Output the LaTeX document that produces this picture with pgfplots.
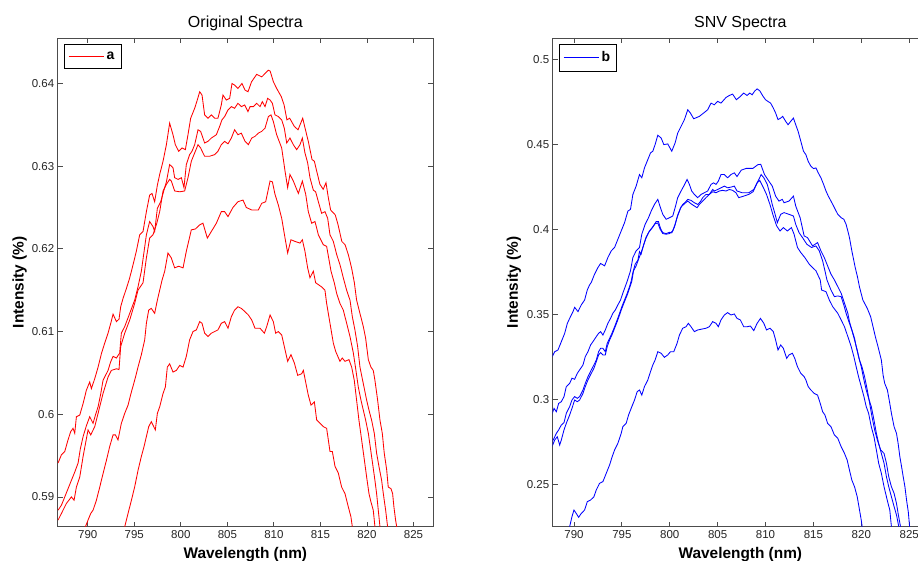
\documentclass[border=0pt]{standalone}
\usepackage{fontspec}
\setmainfont{Liberation Sans}
\usepackage{pgfplots}
\pgfplotsset{compat=1.18}

\pgfplotsset{
  mat/.style={
    scale only axis, width=375.3pt, height=488.7pt,
    anchor=south west,
    axis line style={draw=black!70, line width=0.9pt},
    tick align=inside, major tick length=5pt,
    tick style={draw=black!70, line width=0.8pt},
    ticklabel style={font=\fontsize{11.5}{13}\selectfont, text=black!85},
    xtick={790,795,800,805,810,815,820,825},
    xticklabels={790,795,800,805,810,815,820,825},
    title style={font=\fontsize{16}{19}\selectfont, at={(axis description cs:0.5,1)}, anchor=base, yshift=4pt},
    xlabel style={font=\bfseries\fontsize{15.4}{18}\selectfont, at={(axis description cs:0.5,-0.0645)}, anchor=base},
    ylabel style={font=\bfseries\fontsize{15.4}{18}\selectfont, anchor=base},
    xlabel={Wavelength (nm)},
    ylabel={Intensity (\%)},
    legend style={at={(axis description cs:0,1)}, anchor=north west, xshift=6.3pt, yshift=-6pt,
      draw=black, inner xsep=4pt, inner ysep=5pt,
      nodes={inner sep=2.5pt, font=\bfseries\fontsize{14}{16}\selectfont}},
    legend image code/.code={\draw[#1] (0pt,0pt) -- (35pt,0pt);},
    every axis plot/.append style={line width=0.85pt},
  },
}

\begin{document}
\begin{tikzpicture}

% ---- left: original spectra ----
\begin{axis}[mat, at={(57.7pt,34.3pt)},
  title={Original Spectra},
  ylabel style={at={(axis description cs:-0.0906,0.5)}},
  xmin=786.77, xmax=827.1, ymin=0.5864, ymax=0.6455,
  ytick={0.59,0.6,0.61,0.62,0.63,0.64},
  yticklabels={0.59,0.6,0.61,0.62,0.63,0.64},
]
\addlegendimage{draw=red, line width=0.85pt}
\addlegendentry{a}
\addplot[red, forget plot] coordinates {
(786.81,0.5941)(787.17,0.5951)(787.53,0.5955)(787.88,0.5969)(788.17,0.5979)(788.42,0.5983)(788.6,0.5977)(788.78,0.5997)(789.14,0.5999)(789.5,0.6013)(789.85,0.6029)(790.21,0.6039)(790.39,0.6031)(790.75,0.6043)(791.11,0.6057)(791.46,0.6073)(791.82,0.6086)(792.18,0.6098)(792.47,0.6110)(792.72,0.6121)(793.08,0.6112)(793.36,0.6115)(793.54,0.6130)(793.79,0.6140)(794.15,0.6152)(794.51,0.6165)(794.87,0.6181)(795.22,0.6197)(795.58,0.6217)(795.94,0.6221)(796.3,0.6245)(796.65,0.6265)(796.9,0.6267)(797.19,0.6257)(797.48,0.6277)(797.73,0.6290)(798.09,0.6306)(798.45,0.6326)(798.8,0.6352)(799.16,0.6338)(799.41,0.6326)(799.77,0.6318)(800.13,0.6322)(800.49,0.6320)(800.77,0.6338)(801.06,0.6358)(801.49,0.6370)(801.77,0.6380)(802.03,0.6390)(802.28,0.6386)(802.56,0.6362)(802.92,0.6358)(803.28,0.6362)(803.64,0.6358)(803.99,0.6358)(804.35,0.6374)(804.53,0.6386)(804.89,0.6380)(805.25,0.6382)(805.5,0.6400)(805.78,0.6398)(806.14,0.6394)(806.57,0.6400)(806.9,0.6392)(807.22,0.6390)(807.6,0.6402)(808.15,0.6411)(808.7,0.6408)(809.05,0.6412)(809.4,0.6416)(809.6,0.6415)(809.95,0.6402)(810.3,0.6394)(810.8,0.6384)(811.1,0.6374)(811.4,0.6356)(811.7,0.6358)(812.2,0.6348)(812.6,0.6344)(813.1,0.6358)(813.35,0.6346)(813.7,0.6330)(814.1,0.6308)(814.35,0.6306)(814.6,0.6294)(814.95,0.6278)(815.3,0.6272)(815.6,0.6280)(815.85,0.6262)(816.1,0.6247)(816.6,0.6241)(816.9,0.6229)(817.3,0.6209)(817.65,0.6205)(818.0,0.6193)(818.35,0.6177)(818.65,0.6159)(818.89,0.6138)(819.25,0.6122)(819.61,0.6106)(819.86,0.6092)(820.15,0.6066)(820.43,0.6057)(820.68,0.6053)(820.86,0.6041)(821.15,0.6017)(821.4,0.5993)(821.65,0.5977)(821.86,0.5953)(822.12,0.5933)(822.29,0.5912)(822.58,0.5910)(822.76,0.5904)(822.9,0.5888)(823.08,0.5872)(823.23,0.5862)
};
\addplot[red, forget plot] coordinates {
(786.81,0.5884)(787.17,0.5890)(787.6,0.5902)(788.24,0.5920)(788.6,0.5930)(788.96,0.5941)(789.2,0.5958)(789.5,0.5973)(789.85,0.5986)(790.21,0.5997)(790.57,0.5989)(790.85,0.6000)(791.11,0.6009)(791.4,0.6025)(791.64,0.6041)(792.18,0.6053)(792.45,0.6063)(792.72,0.6070)(793.08,0.6068)(793.43,0.6074)(793.61,0.6098)(793.97,0.6106)(794.51,0.6122)(795.04,0.6138)(795.4,0.6154)(795.76,0.6173)(796.3,0.6217)(796.65,0.6233)(797.01,0.6227)(797.19,0.6221)(797.48,0.6249)(797.84,0.6257)(798.19,0.6271)(798.45,0.6281)(798.8,0.6302)(799.16,0.6298)(799.34,0.6286)(799.7,0.6284)(800.06,0.6286)(800.34,0.6274)(800.59,0.6302)(800.95,0.6314)(801.2,0.6318)(801.49,0.6326)(801.85,0.6344)(802.13,0.6342)(802.38,0.6334)(802.56,0.6328)(802.92,0.6330)(803.28,0.6334)(803.82,0.6338)(804.17,0.6348)(804.42,0.6356)(804.71,0.6360)(805.07,0.6368)(805.43,0.6372)(805.78,0.6370)(806.14,0.6376)(806.5,0.6372)(806.86,0.6374)(807.22,0.6366)(807.44,0.6372)(807.8,0.6372)(808.15,0.6376)(808.51,0.6372)(808.76,0.6378)(809.05,0.6372)(809.33,0.6382)(809.59,0.6380)(809.84,0.6376)(810.12,0.6362)(810.48,0.6360)(810.84,0.6356)(811.12,0.6346)(811.38,0.6328)(811.73,0.6334)(812.09,0.6326)(812.45,0.6320)(812.81,0.6326)(813.06,0.6334)(813.34,0.6316)(813.63,0.6304)(813.88,0.6286)(814.24,0.6271)(814.49,0.6269)(814.78,0.6257)(815.13,0.6243)(815.49,0.6245)(815.78,0.6237)(816.03,0.6217)(816.39,0.6209)(816.75,0.6193)(817.1,0.6181)(817.46,0.6165)(817.82,0.6150)(818.18,0.6138)(818.43,0.6118)(818.71,0.6102)(819.0,0.6082)(819.25,0.6057)(819.61,0.6037)(819.97,0.6017)(820.22,0.6005)(820.5,0.5993)(820.79,0.5977)(821.04,0.5953)(821.29,0.5937)(821.58,0.5920)(821.76,0.5904)(822.01,0.5884)(822.22,0.5864)
};
\addplot[red, forget plot] coordinates {
(786.81,0.5872)(787.17,0.5880)(787.7,0.5892)(788.24,0.5900)(788.53,0.5896)(788.78,0.5912)(789.14,0.5924)(789.5,0.5949)(790.03,0.5981)(790.32,0.5975)(790.75,0.5985)(791.11,0.6001)(791.64,0.6025)(792.18,0.6045)(792.54,0.6053)(793.08,0.6055)(793.36,0.6054)(793.54,0.6082)(793.97,0.6098)(794.51,0.6114)(795.04,0.6134)(795.4,0.6150)(795.94,0.6159)(796.3,0.6189)(796.65,0.6213)(797.01,0.6217)(797.37,0.6229)(797.73,0.6245)(798.09,0.6270)(798.45,0.6278)(798.8,0.6284)(798.98,0.6282)(799.34,0.6270)(799.88,0.6269)(800.41,0.6270)(800.77,0.6286)(801.13,0.6306)(801.49,0.6316)(801.85,0.6326)(802.13,0.6322)(802.38,0.6316)(802.56,0.6312)(803.1,0.6312)(803.64,0.6314)(803.99,0.6318)(804.35,0.6326)(804.71,0.6330)(805.07,0.6327)(805.43,0.6334)(805.78,0.6344)(806.14,0.6338)(806.5,0.6340)(806.9,0.6330)(807.26,0.6326)(807.62,0.6334)(807.97,0.6336)(808.33,0.6340)(808.69,0.6342)(809.05,0.6346)(809.41,0.6360)(809.69,0.6362)(809.94,0.6354)(810.3,0.6338)(810.84,0.6322)(811.2,0.6294)(811.48,0.6274)(811.73,0.6290)(812.09,0.6282)(812.63,0.6267)(813.06,0.6282)(813.42,0.6266)(813.7,0.6245)(814.06,0.6231)(814.42,0.6233)(814.78,0.6217)(815.31,0.6205)(815.67,0.6203)(816.14,0.6173)(816.49,0.6159)(816.75,0.6146)(817.1,0.6134)(817.46,0.6126)(817.82,0.6110)(818.18,0.6094)(818.54,0.6074)(818.82,0.6053)(819.07,0.6033)(819.36,0.6017)(819.61,0.6005)(819.86,0.5993)(820.15,0.5977)(820.4,0.5957)(820.65,0.5937)(820.86,0.5920)(821.04,0.5904)(821.22,0.5884)(821.4,0.5864)
};
\addplot[red, forget plot] coordinates {
(789.75,0.5864)(790.03,0.5872)(790.32,0.5880)(790.57,0.5884)(790.93,0.5896)(791.29,0.5912)(791.64,0.5928)(792.0,0.5944)(792.36,0.5961)(792.72,0.5975)(792.97,0.5975)(793.25,0.5969)(793.61,0.5989)(793.97,0.6001)(794.33,0.6011)(794.69,0.6027)(795.04,0.6041)(795.4,0.6057)(795.76,0.6072)(796.12,0.6090)(796.3,0.6110)(796.55,0.6126)(796.83,0.6128)(797.19,0.6122)(797.48,0.6138)(797.73,0.6150)(797.98,0.6162)(798.27,0.6173)(798.62,0.6195)(798.98,0.6189)(799.34,0.6177)(799.77,0.6179)(800.24,0.6177)(800.59,0.6197)(801.13,0.6223)(801.56,0.6224)(802.03,0.6229)(802.38,0.6231)(802.85,0.6213)(803.28,0.6221)(803.82,0.6231)(804.35,0.6245)(804.71,0.6245)(805.07,0.6239)(805.6,0.6250)(806.14,0.6257)(806.68,0.6259)(807.04,0.6250)(807.62,0.6247)(808.33,0.6247)(808.69,0.6255)(809.12,0.6257)(809.59,0.6282)(809.84,0.6281)(810.12,0.6266)(810.48,0.6253)(810.84,0.6237)(811.2,0.6213)(811.48,0.6195)(811.84,0.6211)(812.27,0.6209)(812.81,0.6207)(813.06,0.6211)(813.34,0.6197)(813.63,0.6177)(813.88,0.6165)(814.24,0.6173)(814.49,0.6159)(815.13,0.6154)(815.49,0.6150)(815.67,0.6134)(816.03,0.6110)(816.39,0.6086)(816.64,0.6076)(817.1,0.6064)(817.35,0.6068)(817.64,0.6064)(818.07,0.6066)(818.36,0.6057)(818.64,0.6041)(818.89,0.6017)(819.14,0.5993)(819.43,0.5969)(819.72,0.5945)(819.97,0.5924)(820.22,0.5904)(820.43,0.5894)(820.68,0.5884)(820.86,0.5864)
};
\addplot[red, forget plot] coordinates {
(793.97,0.5864)(794.33,0.5880)(794.69,0.5896)(795.04,0.5912)(795.4,0.5932)(795.76,0.5949)(796.05,0.5961)(796.3,0.5973)(796.55,0.5985)(796.83,0.5991)(797.26,0.5981)(797.48,0.6001)(797.73,0.6009)(798.09,0.6025)(798.34,0.6033)(798.55,0.6057)(798.8,0.6061)(799.16,0.6051)(799.52,0.6053)(799.88,0.6059)(800.24,0.6057)(800.59,0.6070)(800.95,0.6090)(801.31,0.6100)(801.67,0.6102)(802.03,0.6112)(802.28,0.6110)(802.56,0.6098)(802.92,0.6094)(803.28,0.6098)(803.64,0.6100)(803.99,0.6102)(804.35,0.6110)(804.71,0.6112)(805.07,0.6104)(805.43,0.6118)(805.78,0.6126)(806.14,0.6130)(806.5,0.6128)(806.9,0.6124)(807.26,0.6120)(807.62,0.6114)(807.97,0.6104)(808.51,0.6104)(808.98,0.6098)(809.23,0.6106)(809.59,0.6120)(809.94,0.6112)(810.19,0.6098)(810.48,0.6100)(810.84,0.6096)(811.12,0.6082)(811.48,0.6064)(811.84,0.6072)(812.2,0.6062)(812.56,0.6047)(812.99,0.6049)(813.17,0.6053)(813.45,0.6037)(813.7,0.6023)(813.99,0.6011)(814.35,0.6015)(814.6,0.5993)(814.96,0.5989)(815.31,0.5985)(815.67,0.5983)(815.85,0.5969)(816.03,0.5955)(816.28,0.5955)(816.57,0.5937)(816.92,0.5929)(817.28,0.5912)(817.64,0.5904)(818.0,0.5888)(818.28,0.5876)(818.43,0.5864)
};
\end{axis}

% ---- right: SNV spectra ----
\begin{axis}[mat, at={(552.7pt,34.3pt)},
  title={SNV Spectra},
  ylabel style={at={(axis description cs:-0.093,0.5)}},
  xmin=787.78, xmax=826.96, ymin=0.2251, ymax=0.5125,
  ytick={0.25,0.3,0.35,0.4,0.45,0.5},
  yticklabels={0.25,0.3,0.35,0.4,0.45,0.5},
]
\addlegendimage{draw=blue, line width=0.85pt}
\addlegendentry{b}
\addplot[blue, forget plot] coordinates {
(787.64,0.3241)(787.99,0.3280)(788.33,0.3290)(788.68,0.3339)(789.03,0.3388)(789.31,0.3447)(789.55,0.3476)(789.9,0.3516)(790.07,0.3541)(790.42,0.3516)(790.76,0.3555)(791.11,0.3584)(791.39,0.3643)(791.63,0.3673)(791.81,0.3688)(792.15,0.3736)(792.5,0.3775)(792.78,0.3799)(793.2,0.3785)(793.54,0.3834)(793.89,0.3873)(794.24,0.3893)(794.58,0.3941)(794.93,0.3990)(795.28,0.4039)(795.63,0.4107)(795.9,0.4117)(796.15,0.4205)(796.49,0.4254)(796.84,0.4322)(797.08,0.4303)(797.36,0.4361)(797.71,0.4410)(797.99,0.4449)(798.23,0.4459)(798.47,0.4498)(798.75,0.4553)(799.1,0.4537)(799.38,0.4498)(799.79,0.4502)(800.21,0.4459)(800.56,0.4508)(800.83,0.4566)(801.18,0.4605)(801.53,0.4645)(801.88,0.4703)(802.15,0.4684)(802.5,0.4650)(803.09,0.4664)(803.54,0.4684)(803.96,0.4703)(804.31,0.4742)(804.65,0.4732)(805.0,0.4752)(805.35,0.4742)(805.87,0.4775)(806.22,0.4787)(806.56,0.4795)(806.95,0.4762)(807.37,0.4781)(807.72,0.4801)(808.07,0.4787)(808.35,0.4801)(808.6,0.4791)(808.84,0.4811)(809.12,0.4826)(809.4,0.4814)(809.75,0.4781)(810.0,0.4762)(810.25,0.4752)(810.53,0.4742)(810.81,0.4713)(811.05,0.4684)(811.3,0.4645)(811.58,0.4654)(811.79,0.4664)(812.1,0.4635)(812.35,0.4615)(812.63,0.4635)(812.91,0.4654)(813.15,0.4615)(813.4,0.4576)(813.68,0.4518)(813.96,0.4459)(814.21,0.4439)(814.45,0.4400)(814.73,0.4371)(815.01,0.4357)(815.26,0.4361)(815.5,0.4332)(815.78,0.4303)(816.06,0.4264)(816.31,0.4225)(816.55,0.4195)(816.83,0.4166)(817.19,0.4127)(817.54,0.4088)(817.89,0.4068)(818.17,0.4059)(818.41,0.4029)(818.59,0.3990)(818.76,0.3951)(819.01,0.3873)(819.22,0.3814)(819.36,0.3775)(819.57,0.3727)(819.81,0.3660)(820.16,0.3584)(820.62,0.3535)(820.97,0.3486)(821.22,0.3427)(821.46,0.3369)(821.74,0.3310)(822.09,0.3231)(822.27,0.3143)(822.44,0.3094)(822.72,0.3055)(822.97,0.2976)(823.14,0.2918)(823.42,0.2839)(823.67,0.2800)(823.84,0.2741)(824.02,0.2663)(824.2,0.2604)(824.37,0.2545)(824.55,0.2486)(824.72,0.2408)(824.9,0.2339)(825.04,0.2251)
};
\addplot[blue, forget plot] coordinates {
(787.64,0.2902)(787.92,0.2947)(788.16,0.2927)(788.4,0.2976)(788.68,0.2986)(788.96,0.3016)(789.2,0.3075)(789.55,0.3094)(789.79,0.3124)(790.07,0.3118)(790.35,0.3153)(790.59,0.3173)(790.94,0.3202)(791.18,0.3251)(791.46,0.3280)(791.74,0.3320)(791.98,0.3339)(792.33,0.3369)(792.57,0.3388)(792.78,0.3398)(793.02,0.3378)(793.27,0.3408)(793.54,0.3447)(793.82,0.3476)(794.06,0.3506)(794.31,0.3525)(794.58,0.3555)(794.86,0.3584)(795.1,0.3624)(795.35,0.3663)(795.56,0.3695)(795.9,0.3756)(796.15,0.3834)(796.49,0.3873)(796.84,0.3893)(797.08,0.3971)(797.43,0.4029)(797.78,0.4068)(798.06,0.4107)(798.4,0.4146)(798.75,0.4176)(799.03,0.4127)(799.27,0.4088)(799.62,0.4059)(799.97,0.4068)(800.31,0.4078)(800.56,0.4127)(800.83,0.4186)(801.18,0.4225)(801.46,0.4254)(801.81,0.4293)(802.05,0.4264)(802.29,0.4225)(802.57,0.4205)(802.92,0.4186)(803.26,0.4205)(803.61,0.4215)(803.96,0.4225)(804.31,0.4264)(804.58,0.4273)(804.83,0.4264)(805.07,0.4283)(805.35,0.4322)(805.7,0.4322)(806.04,0.4303)(806.39,0.4322)(806.74,0.4332)(807.02,0.4310)(807.47,0.4348)(807.99,0.4358)(808.68,0.4358)(809.2,0.4380)(809.5,0.4382)(809.89,0.4322)(810.35,0.4283)(810.7,0.4254)(811.05,0.4195)(811.4,0.4166)(811.75,0.4176)(811.93,0.4156)(812.45,0.4166)(812.91,0.4195)(813.15,0.4137)(813.61,0.4068)(814.03,0.3961)(814.38,0.3951)(814.91,0.3902)(815.43,0.3922)(815.78,0.3873)(816.13,0.3834)(816.48,0.3785)(816.83,0.3736)(817.19,0.3702)(817.54,0.3663)(817.89,0.3624)(818.24,0.3565)(818.59,0.3506)(818.76,0.3457)(819.01,0.3408)(819.29,0.3349)(819.57,0.3290)(819.81,0.3231)(820.06,0.3192)(820.34,0.3133)(820.62,0.3055)(820.87,0.2976)(821.11,0.2898)(821.39,0.2820)(821.67,0.2761)(822.02,0.2702)(822.37,0.2682)(822.62,0.2624)(822.86,0.2545)(823.14,0.2486)(823.42,0.2447)(823.67,0.2388)(823.84,0.2329)(824.09,0.2251)
};
\addplot[blue, forget plot] coordinates {
(787.64,0.2741)(787.92,0.2771)(788.16,0.2800)(788.4,0.2820)(788.68,0.2849)(788.96,0.2863)(789.2,0.2918)(789.55,0.2957)(789.79,0.2996)(790.07,0.3016)(790.35,0.3006)(790.59,0.3016)(790.94,0.3055)(791.18,0.3094)(791.46,0.3133)(791.81,0.3173)(792.08,0.3202)(792.33,0.3231)(792.57,0.3280)(792.78,0.3300)(793.02,0.3300)(793.27,0.3280)(793.47,0.3329)(793.72,0.3359)(793.96,0.3388)(794.24,0.3427)(794.51,0.3467)(794.76,0.3506)(795.0,0.3545)(795.28,0.3584)(795.56,0.3624)(795.8,0.3663)(795.97,0.3695)(796.15,0.3746)(796.39,0.3795)(796.67,0.3818)(796.84,0.3869)(797.01,0.3854)(797.29,0.3912)(797.54,0.3955)(797.88,0.3990)(798.23,0.4014)(798.58,0.4045)(798.82,0.4045)(799.03,0.4006)(799.27,0.3980)(799.62,0.3975)(799.97,0.3982)(800.21,0.3979)(800.49,0.4014)(800.76,0.4068)(801.11,0.4123)(801.35,0.4146)(801.6,0.4158)(801.88,0.4176)(802.22,0.4170)(802.57,0.4156)(802.92,0.4146)(803.19,0.4162)(803.44,0.4186)(803.78,0.4205)(804.13,0.4205)(804.48,0.4234)(804.65,0.4225)(805.0,0.4234)(805.35,0.4244)(805.7,0.4254)(806.04,0.4244)(806.39,0.4248)(806.74,0.4254)(807.02,0.4225)(807.55,0.4215)(808.25,0.4215)(808.77,0.4234)(809.3,0.4293)(809.54,0.4322)(809.82,0.4303)(810.18,0.4264)(810.46,0.4205)(810.7,0.4146)(810.95,0.4098)(811.23,0.4039)(811.58,0.4088)(811.93,0.4098)(812.45,0.4088)(812.91,0.4078)(813.15,0.4029)(813.5,0.3980)(813.86,0.3951)(814.31,0.3912)(814.8,0.3893)(815.26,0.3902)(815.61,0.3873)(815.96,0.3814)(816.2,0.3756)(816.41,0.3702)(816.83,0.3643)(817.19,0.3604)(817.54,0.3608)(817.89,0.3604)(818.17,0.3555)(818.41,0.3506)(818.76,0.3447)(819.01,0.3408)(819.29,0.3359)(819.46,0.3310)(819.71,0.3251)(819.99,0.3192)(820.27,0.3114)(820.51,0.3055)(820.76,0.3006)(821.04,0.2957)(821.32,0.2878)(821.57,0.2800)(821.81,0.2741)(822.09,0.2682)(822.37,0.2624)(822.62,0.2545)(822.86,0.2486)(823.14,0.2427)(823.42,0.2369)(823.67,0.2320)(823.91,0.2251)
};
\addplot[blue, forget plot] coordinates {
(787.64,0.2712)(787.99,0.2761)(788.26,0.2780)(788.51,0.2731)(788.68,0.2761)(788.96,0.2820)(789.2,0.2859)(789.55,0.2908)(789.79,0.2947)(790.07,0.2996)(790.35,0.2986)(790.59,0.2996)(790.94,0.3035)(791.18,0.3075)(791.46,0.3114)(791.81,0.3153)(792.08,0.3182)(792.33,0.3222)(792.57,0.3261)(792.78,0.3275)(793.02,0.3261)(793.27,0.3261)(793.47,0.3310)(793.72,0.3349)(793.96,0.3378)(794.24,0.3418)(794.51,0.3457)(794.76,0.3496)(795.0,0.3535)(795.28,0.3575)(795.56,0.3614)(795.8,0.3653)(796.04,0.3695)(796.22,0.3756)(796.49,0.3785)(796.74,0.3824)(796.95,0.3854)(797.19,0.3893)(797.47,0.3941)(797.78,0.3980)(798.13,0.4006)(798.47,0.4033)(798.75,0.4037)(799.0,0.4000)(799.27,0.3975)(799.62,0.3971)(799.97,0.3975)(800.31,0.3990)(800.56,0.4029)(800.83,0.4084)(801.18,0.4131)(801.53,0.4150)(801.88,0.4166)(802.22,0.4150)(802.57,0.4137)(802.85,0.4127)(803.09,0.4146)(803.44,0.4166)(803.78,0.4186)(804.13,0.4205)(804.48,0.4221)(804.83,0.4215)(805.17,0.4225)(805.52,0.4229)(805.87,0.4225)(806.22,0.4234)(806.56,0.4229)(806.91,0.4215)(807.2,0.4186)(807.72,0.4195)(808.25,0.4205)(808.7,0.4221)(809.12,0.4273)(809.4,0.4287)(809.75,0.4248)(810.1,0.4205)(810.46,0.4146)(810.81,0.4078)(811.16,0.4020)(811.51,0.3990)(811.86,0.4010)(812.28,0.3990)(812.7,0.4010)(812.98,0.3971)(813.33,0.3893)(813.68,0.3863)(814.1,0.3834)(814.56,0.3795)(814.91,0.3775)(815.26,0.3756)(815.5,0.3727)(815.71,0.3702)(815.85,0.3643)(816.31,0.3633)(816.66,0.3584)(817.01,0.3545)(817.54,0.3506)(817.89,0.3467)(818.24,0.3427)(818.59,0.3369)(818.94,0.3310)(819.22,0.3251)(819.46,0.3192)(819.71,0.3133)(819.99,0.3075)(820.27,0.3016)(820.51,0.2957)(820.76,0.2918)(821.04,0.2839)(821.32,0.2780)(821.57,0.2702)(821.81,0.2624)(822.09,0.2565)(822.37,0.2486)(822.62,0.2427)(822.79,0.2388)(822.97,0.2349)(823.14,0.2251)
};
\addplot[blue, forget plot] coordinates {
(789.55,0.2251)(789.79,0.2310)(790.0,0.2349)(790.24,0.2329)(790.49,0.2306)(790.76,0.2329)(791.11,0.2349)(791.39,0.2398)(791.74,0.2408)(792.08,0.2427)(792.33,0.2467)(792.67,0.2506)(793.02,0.2516)(793.37,0.2565)(793.72,0.2614)(793.99,0.2663)(794.24,0.2702)(794.58,0.2741)(794.93,0.2800)(795.1,0.2839)(795.45,0.2859)(795.7,0.2908)(795.97,0.2947)(796.32,0.2996)(796.6,0.3045)(796.84,0.3055)(797.08,0.3025)(797.36,0.3075)(797.71,0.3114)(797.99,0.3163)(798.23,0.3202)(798.47,0.3231)(798.75,0.3280)(799.1,0.3271)(799.44,0.3247)(799.79,0.3261)(800.07,0.3280)(800.42,0.3280)(800.76,0.3329)(801.01,0.3378)(801.35,0.3418)(801.7,0.3427)(801.94,0.3447)(802.22,0.3427)(802.57,0.3398)(802.92,0.3408)(803.26,0.3412)(803.78,0.3418)(804.13,0.3427)(804.48,0.3457)(804.83,0.3447)(805.07,0.3427)(805.35,0.3467)(805.7,0.3496)(806.04,0.3510)(806.39,0.3496)(806.74,0.3502)(807.02,0.3476)(807.37,0.3467)(807.72,0.3427)(808.07,0.3427)(808.42,0.3431)(808.77,0.3404)(809.12,0.3447)(809.47,0.3476)(809.82,0.3447)(810.1,0.3408)(810.46,0.3418)(810.81,0.3398)(811.05,0.3349)(811.3,0.3290)(811.58,0.3320)(811.86,0.3300)(812.21,0.3241)(812.45,0.3261)(812.8,0.3271)(813.05,0.3241)(813.33,0.3192)(813.68,0.3153)(814.03,0.3133)(814.21,0.3114)(814.45,0.3075)(814.73,0.3055)(815.08,0.3035)(815.43,0.3025)(815.71,0.2976)(815.96,0.2927)(816.2,0.2908)(816.48,0.2859)(816.83,0.2839)(817.19,0.2790)(817.54,0.2771)(817.89,0.2722)(818.24,0.2682)(818.52,0.2643)(818.76,0.2584)(819.01,0.2525)(819.29,0.2486)(819.57,0.2427)(819.81,0.2349)(819.99,0.2290)(820.09,0.2251)
};
\end{axis}

\pgfresetboundingbox
\useasboundingbox (0pt,0pt) rectangle (918pt,561pt);
\end{tikzpicture}
\end{document}
